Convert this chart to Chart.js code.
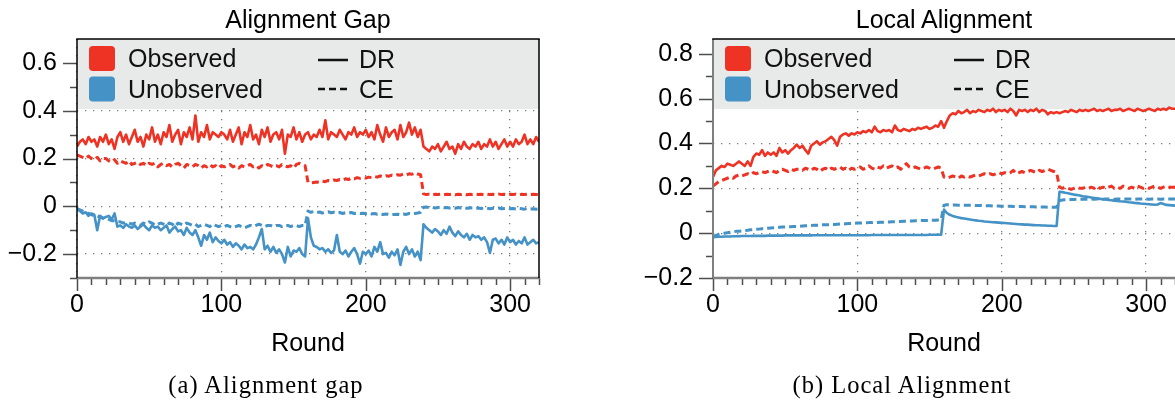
<!DOCTYPE html>
<html>
<head>
<meta charset="utf-8">
<script src="https://cdn.jsdelivr.net/npm/chart.js@4.4.1/dist/chart.umd.min.js"></script>
<style>
  html, body { margin: 0; padding: 0; background: #fff; }
  body { width: 1175px; height: 402px; overflow: hidden; position: relative; }
  canvas { position: absolute; top: 0; }
  .txt { position: absolute; white-space: nowrap; text-align: center; width: 500px; line-height: 1; color: #000; }
  .ttl { font-family: "Liberation Sans", Arial, sans-serif; font-size: 25px; }
  .cap { font-family: "Liberation Serif", "Times New Roman", serif; font-size: 24.5px; letter-spacing: 1px; }
</style>
</head>
<body>
<canvas id="c1" width="560" height="402" style="left:0px;width:560px;height:402px"></canvas>
<canvas id="c2" width="545" height="402" style="left:636px;width:545px;height:402px"></canvas>
<div class="txt ttl" style="left:58px;top:7px">Alignment Gap</div>
<div class="txt ttl" style="left:694px;top:7px">Local Alignment</div>
<div class="txt cap" style="left:16px;top:373px">(a) Alignment gap</div>
<div class="txt cap" style="left:652px;top:373px">(b) Local Alignment</div>
<script>
// ---------------- data ----------------
const rounds = [0,2,4,6,8,10,12,14,16,18,20,22,24,26,28,30,32,34,36,38,40,42,44,46,48,50,52,54,56,58,60,62,64,66,68,70,72,74,76,78,80,82,84,86,88,90,92,94,96,98,100,102,104,106,108,110,112,114,116,118,120,122,124,126,128,130,132,134,136,138,140,142,144,146,148,150,152,154,156,158,160,162,164,166,168,170,172,174,176,178,180,182,184,186,188,190,192,194,196,198,200,202,204,206,208,210,212,214,216,218,220,222,224,226,228,230,232,234,236,238,240,242,244,246,248,250,252,254,256,258,260,262,264,266,268,270,272,274,276,278,280,282,284,286,288,290,292,294,296,298,300,302,304,306,308,310,312,314,316,318,320];

// (a) Alignment Gap
const gapObservedDR = [
0.25,0.27,0.28,0.26,0.29,0.27,0.28,0.25,0.29,0.27,
0.30,0.26,0.28,0.24,0.29,0.31,0.27,0.30,0.26,0.29,
0.32,0.27,0.29,0.25,0.30,0.28,0.33,0.27,0.30,0.26,
0.31,0.29,0.34,0.27,0.30,0.32,0.26,0.31,0.29,0.33,
0.28,0.38,0.27,0.31,0.29,0.34,0.28,0.31,0.30,0.29,
0.31,0.30,0.28,0.32,0.27,0.30,0.33,0.26,0.31,0.29,
0.34,0.28,0.30,0.26,0.32,0.29,0.33,0.27,0.30,0.31,
0.28,0.32,0.22,0.30,0.29,0.33,0.28,0.31,0.27,0.30,
0.31,0.28,0.30,0.29,0.32,0.29,0.36,0.28,0.31,0.30,
0.29,0.32,0.30,0.28,0.31,0.30,0.33,0.29,0.31,0.30,
0.32,0.29,0.31,0.28,0.34,0.30,0.27,0.33,0.29,0.31,
0.32,0.28,0.34,0.29,0.31,0.35,0.30,0.33,0.29,0.32,
0.25,0.24,0.23,0.25,0.24,0.26,0.23,0.25,0.27,0.24,
0.25,0.22,0.26,0.24,0.27,0.25,0.24,0.26,0.25,0.27,
0.24,0.26,0.25,0.28,0.25,0.27,0.24,0.26,0.28,0.25,
0.27,0.25,0.28,0.26,0.27,0.30,0.26,0.28,0.26,0.29,
0.27];
const gapObservedCE = [
0.215,0.21,0.205,0.20,0.21,0.20,0.195,0.205,0.19,0.20,
0.20,0.19,0.185,0.195,0.18,0.19,0.185,0.18,0.19,0.175,
0.18,0.185,0.175,0.18,0.17,0.18,0.175,0.18,0.165,0.175,
0.18,0.17,0.175,0.165,0.175,0.18,0.17,0.16,0.175,0.17,
0.165,0.175,0.17,0.16,0.17,0.165,0.175,0.165,0.17,0.16,
0.17,0.165,0.17,0.175,0.165,0.17,0.16,0.17,0.165,0.17,
0.175,0.165,0.17,0.16,0.17,0.165,0.175,0.17,0.165,0.17,
0.165,0.175,0.17,0.165,0.17,0.16,0.175,0.18,0.175,0.17,
0.10,0.098,0.10,0.102,0.10,0.105,0.103,0.108,0.106,0.11,
0.108,0.112,0.11,0.115,0.112,0.118,0.115,0.12,0.117,0.12,
0.118,0.122,0.12,0.125,0.122,0.127,0.124,0.128,0.126,0.13,
0.128,0.132,0.13,0.135,0.131,0.136,0.134,0.14,0.135,0.132,
0.052,0.049,0.051,0.048,0.05,0.049,0.051,0.048,0.05,0.049,
0.051,0.048,0.05,0.049,0.051,0.048,0.05,0.049,0.051,0.049,
0.05,0.048,0.051,0.049,0.05,0.048,0.051,0.049,0.05,0.048,
0.05,0.049,0.051,0.048,0.05,0.049,0.051,0.049,0.05,0.049,
0.049];
const gapUnobservedDR = [
-0.01,-0.02,-0.03,-0.025,-0.04,-0.03,-0.035,-0.10,-0.04,-0.05,
-0.045,-0.04,-0.055,-0.03,-0.085,-0.08,-0.09,-0.075,-0.085,-0.09,
-0.08,-0.095,-0.085,-0.075,-0.09,-0.10,-0.08,-0.09,-0.085,-0.10,
-0.09,-0.08,-0.11,-0.095,-0.085,-0.105,-0.10,-0.12,-0.09,-0.11,
-0.12,-0.10,-0.13,-0.165,-0.12,-0.14,-0.11,-0.15,-0.13,-0.145,
-0.155,-0.14,-0.16,-0.15,-0.17,-0.155,-0.165,-0.18,-0.16,-0.175,
-0.17,-0.18,-0.16,-0.13,-0.095,-0.18,-0.165,-0.19,-0.17,-0.195,
-0.18,-0.20,-0.235,-0.17,-0.21,-0.185,-0.19,-0.175,-0.20,-0.21,
-0.05,-0.13,-0.165,-0.17,-0.18,-0.175,-0.19,-0.18,-0.195,-0.185,
-0.12,-0.19,-0.20,-0.185,-0.21,-0.19,-0.175,-0.20,-0.24,-0.19,
-0.20,-0.185,-0.21,-0.17,-0.19,-0.15,-0.20,-0.195,-0.215,-0.19,
-0.205,-0.18,-0.245,-0.19,-0.17,-0.20,-0.18,-0.21,-0.19,-0.225,
-0.075,-0.09,-0.10,-0.11,-0.095,-0.105,-0.12,-0.10,-0.115,-0.085,
-0.11,-0.125,-0.105,-0.12,-0.13,-0.115,-0.14,-0.12,-0.13,-0.125,
-0.14,-0.13,-0.15,-0.195,-0.14,-0.135,-0.155,-0.14,-0.16,-0.13,
-0.15,-0.14,-0.16,-0.145,-0.155,-0.13,-0.16,-0.15,-0.14,-0.155,
-0.15];
const gapUnobservedCE = [
-0.01,-0.015,-0.02,-0.025,-0.03,-0.035,-0.04,-0.04,-0.045,-0.05,
-0.05,-0.055,-0.06,-0.06,-0.065,-0.065,-0.07,-0.07,-0.07,-0.075,
-0.07,-0.075,-0.08,-0.07,-0.075,-0.065,-0.07,-0.08,-0.075,-0.07,
-0.075,-0.08,-0.07,-0.075,-0.085,-0.07,-0.075,-0.08,-0.07,-0.075,
-0.08,-0.075,-0.085,-0.08,-0.075,-0.08,-0.085,-0.075,-0.08,-0.085,
-0.08,-0.085,-0.08,-0.085,-0.09,-0.085,-0.08,-0.085,-0.09,-0.085,
-0.08,-0.085,-0.08,-0.075,-0.08,-0.085,-0.08,-0.08,-0.085,-0.08,
-0.08,-0.085,-0.08,-0.08,-0.085,-0.08,-0.08,-0.085,-0.08,-0.08,
-0.02,-0.025,-0.022,-0.026,-0.024,-0.028,-0.025,-0.023,-0.027,-0.025,
-0.028,-0.026,-0.03,-0.027,-0.029,-0.026,-0.03,-0.028,-0.03,-0.029,
-0.03,-0.028,-0.032,-0.03,-0.033,-0.031,-0.034,-0.032,-0.034,-0.035,
-0.034,-0.033,-0.035,-0.032,-0.034,-0.03,-0.032,-0.03,-0.028,-0.025,
-0.004,-0.003,-0.006,-0.004,-0.007,-0.005,-0.004,-0.006,-0.005,-0.007,
-0.006,-0.008,-0.005,-0.007,-0.006,-0.008,-0.007,-0.006,-0.008,-0.007,
-0.009,-0.007,-0.008,-0.01,-0.008,-0.009,-0.007,-0.01,-0.009,-0.008,
-0.01,-0.009,-0.011,-0.008,-0.01,-0.012,-0.009,-0.011,-0.01,-0.012,
-0.011];

// (b) Local Alignment
const localObservedDR = [
0.25,0.28,0.29,0.30,0.295,0.31,0.305,0.30,0.31,0.32,
0.31,0.30,0.32,0.30,0.34,0.355,0.35,0.37,0.345,0.36,
0.35,0.36,0.345,0.38,0.36,0.37,0.355,0.37,0.38,0.395,
0.38,0.39,0.37,0.355,0.39,0.40,0.41,0.395,0.405,0.41,
0.42,0.43,0.415,0.39,0.43,0.44,0.445,0.435,0.445,0.44,
0.45,0.445,0.455,0.45,0.46,0.45,0.475,0.455,0.45,0.46,
0.455,0.46,0.45,0.48,0.46,0.455,0.465,0.46,0.455,0.465,
0.46,0.47,0.465,0.47,0.475,0.465,0.47,0.48,0.475,0.50,
0.47,0.50,0.525,0.535,0.53,0.545,0.535,0.54,0.55,0.535,
0.545,0.54,0.55,0.545,0.54,0.55,0.545,0.555,0.54,0.55,
0.545,0.55,0.54,0.555,0.545,0.525,0.55,0.545,0.55,0.54,
0.55,0.545,0.555,0.54,0.55,0.545,0.53,0.54,0.535,0.54,
0.535,0.54,0.545,0.54,0.55,0.545,0.54,0.55,0.545,0.55,
0.545,0.55,0.555,0.545,0.55,0.545,0.55,0.555,0.545,0.55,
0.55,0.555,0.545,0.55,0.555,0.55,0.545,0.555,0.55,0.545,
0.55,0.555,0.55,0.545,0.555,0.55,0.555,0.55,0.56,0.555,
0.555];
const localObservedCE = [
0.21,0.22,0.23,0.235,0.24,0.245,0.25,0.245,0.255,0.26,
0.255,0.26,0.265,0.26,0.27,0.265,0.27,0.275,0.27,0.275,
0.28,0.275,0.27,0.28,0.285,0.28,0.275,0.285,0.28,0.285,
0.285,0.28,0.29,0.285,0.28,0.29,0.285,0.275,0.285,0.29,
0.28,0.29,0.285,0.29,0.295,0.285,0.29,0.28,0.29,0.285,
0.29,0.295,0.285,0.29,0.30,0.29,0.285,0.295,0.29,0.30,
0.29,0.295,0.30,0.29,0.295,0.285,0.30,0.31,0.295,0.29,
0.295,0.29,0.285,0.29,0.295,0.29,0.285,0.29,0.295,0.29,
0.25,0.245,0.25,0.255,0.25,0.245,0.255,0.25,0.255,0.25,
0.255,0.26,0.255,0.26,0.265,0.26,0.265,0.26,0.265,0.27,
0.265,0.27,0.265,0.27,0.28,0.265,0.27,0.275,0.27,0.275,
0.28,0.275,0.27,0.28,0.275,0.28,0.285,0.28,0.275,0.27,
0.205,0.20,0.205,0.20,0.195,0.20,0.205,0.20,0.20,0.205,
0.20,0.205,0.20,0.21,0.20,0.205,0.20,0.205,0.21,0.20,
0.205,0.20,0.21,0.205,0.20,0.205,0.20,0.21,0.205,0.20,
0.205,0.20,0.205,0.21,0.205,0.20,0.205,0.21,0.205,0.205,
0.205];
const localUnobservedDR = [
-0.018,-0.017,-0.016,-0.016,-0.015,-0.015,-0.015,-0.014,-0.014,-0.014,
-0.013,-0.013,-0.013,-0.013,-0.012,-0.012,-0.012,-0.012,-0.012,-0.011,
-0.011,-0.011,-0.011,-0.011,-0.011,-0.010,-0.010,-0.010,-0.010,-0.010,
-0.010,-0.010,-0.010,-0.010,-0.010,-0.009,-0.009,-0.009,-0.009,-0.009,
-0.009,-0.009,-0.009,-0.009,-0.009,-0.009,-0.009,-0.009,-0.009,-0.009,
-0.009,-0.009,-0.009,-0.009,-0.009,-0.008,-0.008,-0.008,-0.008,-0.008,
-0.008,-0.008,-0.008,-0.008,-0.008,-0.008,-0.008,-0.008,-0.008,-0.008,
-0.008,-0.008,-0.008,-0.008,-0.008,-0.007,-0.007,-0.007,-0.007,-0.007,
0.105,0.09,0.082,0.077,0.073,0.07,0.067,0.065,0.063,0.061,
0.059,0.057,0.055,0.054,0.052,0.051,0.05,0.049,0.048,0.047,
0.046,0.045,0.044,0.043,0.042,0.041,0.04,0.039,0.038,0.038,
0.037,0.036,0.035,0.035,0.034,0.034,0.033,0.033,0.032,0.032,
0.185,0.183,0.18,0.178,0.175,0.172,0.17,0.168,0.165,0.163,
0.161,0.159,0.157,0.155,0.153,0.151,0.15,0.148,0.147,0.145,
0.144,0.142,0.141,0.14,0.138,0.137,0.135,0.134,0.132,0.131,
0.13,0.129,0.128,0.127,0.128,0.134,0.13,0.126,0.125,0.124,
0.123];
const localUnobservedCE = [
-0.015,-0.01,-0.005,-0.002,0.0,0.002,0.004,0.006,0.008,0.009,
0.01,0.012,0.013,0.015,0.016,0.017,0.018,0.02,0.021,0.022,
0.023,0.024,0.025,0.026,0.027,0.027,0.028,0.029,0.03,0.03,
0.031,0.032,0.033,0.033,0.034,0.035,0.035,0.036,0.037,0.037,
0.038,0.039,0.039,0.04,0.041,0.041,0.042,0.043,0.043,0.044,
0.045,0.045,0.046,0.046,0.047,0.047,0.048,0.048,0.049,0.049,
0.05,0.05,0.051,0.051,0.052,0.052,0.053,0.053,0.054,0.054,
0.055,0.055,0.056,0.056,0.057,0.057,0.058,0.058,0.059,0.06,
0.125,0.127,0.127,0.126,0.126,0.125,0.125,0.125,0.124,0.124,
0.124,0.123,0.123,0.123,0.122,0.122,0.122,0.121,0.121,0.121,
0.12,0.12,0.12,0.12,0.119,0.119,0.119,0.119,0.118,0.118,
0.118,0.118,0.117,0.117,0.117,0.117,0.116,0.116,0.116,0.116,
0.145,0.148,0.149,0.15,0.15,0.15,0.151,0.151,0.151,0.151,
0.151,0.152,0.151,0.152,0.152,0.151,0.152,0.152,0.152,0.151,
0.152,0.152,0.151,0.152,0.152,0.152,0.151,0.152,0.152,0.152,
0.152,0.151,0.152,0.152,0.152,0.151,0.152,0.152,0.152,0.152,
0.152];

// ticks / labels
const xMajorTicks = [0, 100, 200, 300];
const xMinorTicks = [10,20,30,40,50,60,70,80,90,110,120,130,140,150,160,170,180,190,210,220,230,240,250,260,270,280,290,310,320];
const gapYTicks = [-0.2, 0, 0.2, 0.4, 0.6];
const gapYLabels = ['\u22120.2', '0', '0.2', '0.4', '0.6'];
const gapYMinor = [-0.3, -0.1, 0.1, 0.3, 0.5];
const localYTicks = [-0.2, 0, 0.2, 0.4, 0.6, 0.8];
const localYLabels = ['\u22120.2', '0', '0.2', '0.4', '0.6', '0.8'];
const localYMinor = [-0.1, 0.1, 0.3, 0.5, 0.7];
const groupNames = ['Observed', 'Unobserved'];
const methodNames = ['DR', 'CE'];

// ---------------- styling ----------------
const RED = '#ee3324';
const BLUE = '#4492c6';
const FONT = '"Liberation Sans", Arial, Helvetica, sans-serif';

function roundRect(ctx, x, y, w, h, r) {
  ctx.beginPath();
  ctx.moveTo(x + r, y);
  ctx.lineTo(x + w - r, y); ctx.quadraticCurveTo(x + w, y, x + w, y + r);
  ctx.lineTo(x + w, y + h - r); ctx.quadraticCurveTo(x + w, y + h, x + w - r, y + h);
  ctx.lineTo(x + r, y + h); ctx.quadraticCurveTo(x, y + h, x, y + h - r);
  ctx.lineTo(x, y + r); ctx.quadraticCurveTo(x, y, x + r, y);
  ctx.closePath();
}
function seg(ctx, x1, y1, x2, y2) { ctx.beginPath(); ctx.moveTo(x1, y1); ctx.lineTo(x2, y2); ctx.stroke(); }

const decor = {
  id: 'decor',
  beforeDatasetsDraw(chart, args, o) {
    const {ctx, chartArea: a} = chart;
    ctx.save();
    ctx.fillStyle = '#e8e9e9';
    ctx.fillRect(a.left, a.top, a.right - a.left, o.boxHeight);
    ctx.restore();
  },
  afterDraw(chart, args, o) {
    const {ctx, chartArea: a, scales} = chart;
    const x = scales.x, y = scales.y;
    ctx.save();
    ctx.lineCap = 'butt';
    // tick marks
    ctx.strokeStyle = '#4d4d4d';
    ctx.lineWidth = 1.5;
    o.yMinor.forEach(v => { const p = Math.round(y.getPixelForValue(v)) + 0.5; seg(ctx, a.left - 7, p, a.left, p); });
    o.yMajor.forEach(v => { const p = Math.round(y.getPixelForValue(v)) + 0.5; seg(ctx, a.left - 14, p, a.left, p); });
    o.xMinor.forEach(v => { const p = Math.round(x.getPixelForValue(v)) + 0.5; seg(ctx, p, a.bottom, p, a.bottom + 7); });
    o.xMajor.forEach(v => { const p = Math.round(x.getPixelForValue(v)) + 0.5; seg(ctx, p, a.bottom, p, a.bottom + 13); });
    // axes and frame
    ctx.strokeStyle = '#7f7f7f'; ctx.lineWidth = 2.5;
    seg(ctx, a.left, a.bottom, a.right + 1, a.bottom);
    ctx.strokeStyle = o.leftAxisColor; ctx.lineWidth = o.leftAxisWidth;
    seg(ctx, a.left, a.top, a.left, a.bottom);
    ctx.strokeStyle = '#000'; ctx.lineWidth = 1.5;
    seg(ctx, a.left - 0.75, a.top, a.right + 0.75, a.top);
    if (o.rightBorder) seg(ctx, a.right, a.top, a.right, a.bottom);
    // legend
    const L = a.left, T = a.top;
    ctx.fillStyle = RED; roundRect(ctx, L + 12, T + 7, 26, 25, 4); ctx.fill();
    ctx.fillStyle = BLUE; roundRect(ctx, L + 12, T + 37.5, 26, 25, 4); ctx.fill();
    ctx.fillStyle = '#111';
    ctx.font = '25px ' + FONT;
    ctx.textBaseline = 'alphabetic';
    ctx.textAlign = 'left';
    ctx.fillText(groupNames[0], L + 51, T + 27.5);
    ctx.fillText(groupNames[1], L + 51, T + 59);
    ctx.fillText(methodNames[0], L + 282, T + 28.5);
    ctx.fillText(methodNames[1], L + 282, T + 59);
    ctx.strokeStyle = '#111'; ctx.lineWidth = 2.5;
    seg(ctx, L + 241, T + 21, L + 271, T + 21);
    ctx.setLineDash([7, 4]);
    seg(ctx, L + 241, T + 50, L + 271, T + 50);
    ctx.setLineDash([]);
    ctx.restore();
  }
};

function series(vals, color, dashed) {
  return {
    data: rounds.map((r, i) => ({x: r, y: vals[i]})),
    borderColor: color,
    backgroundColor: color,
    borderWidth: dashed ? 3 : 2.6,
    borderDash: dashed ? [7, 4] : [],
    borderJoinStyle: 'round',
    pointRadius: 0,
    tension: 0,
    fill: false
  };
}

function makeChart(id, cfg) {
  const gridStyle = {color: '#7a7a7a', lineWidth: 1.3, drawTicks: false};
  const borderStyle = {display: false, dash: [1.3, 6.7]};
  return new Chart(document.getElementById(id), {
    type: 'line',
    data: {
      datasets: [
        series(cfg.obsCE, RED, true),
        series(cfg.unobsCE, BLUE, true),
        series(cfg.obsDR, RED, false),
        series(cfg.unobsDR, BLUE, false)
      ]
    },
    options: {
      responsive: false,
      animation: false,
      devicePixelRatio: 1,
      layout: {padding: {top: 39, right: cfg.padRight, bottom: 0, left: 0}},
      plugins: {
        legend: {display: false},
        tooltip: {enabled: false},
        decor: {
          boxHeight: 70,
          yMajor: cfg.yTicks, yMinor: cfg.yMinor,
          xMajor: xMajorTicks, xMinor: xMinorTicks,
          leftAxisColor: cfg.leftAxisColor, leftAxisWidth: cfg.leftAxisWidth,
          rightBorder: cfg.rightBorder
        }
      },
      scales: {
        x: {
          type: 'linear', min: 0, max: 320,
          afterBuildTicks: s => { s.ticks = xMajorTicks.map(v => ({value: v})); },
          afterFit: s => { s.height = 124; },
          grid: gridStyle,
          border: borderStyle,
          ticks: {padding: 12, color: '#000', font: {family: FONT, size: 25}, maxRotation: 0, autoSkip: false,
                  callback: v => String(v)},
          title: {display: true, text: 'Round', color: '#000', font: {family: FONT, size: 25}, padding: {top: 0, bottom: 43}}
        },
        y: {
          type: 'linear', min: cfg.yMin, max: cfg.yMax,
          afterBuildTicks: s => { s.ticks = cfg.yTicks.map(v => ({value: v})); },
          afterFit: s => { s.width = 77; },
          grid: gridStyle,
          border: borderStyle,
          ticks: {padding: 20, color: '#000', font: {family: FONT, size: 25}, autoSkip: false,
                  callback: v => { const i = cfg.yTicks.findIndex(t => Math.abs(t - v) < 1e-9); return i >= 0 ? cfg.yLabels[i] : ''; }}
        }
      }
    },
    plugins: [decor]
  });
}

makeChart('c1', {
  obsDR: gapObservedDR, obsCE: gapObservedCE, unobsDR: gapUnobservedDR, unobsCE: gapUnobservedCE,
  yMin: -0.3, yMax: 0.7, yTicks: gapYTicks, yLabels: gapYLabels, yMinor: gapYMinor,
  padRight: 21, leftAxisColor: '#000', leftAxisWidth: 1.5, rightBorder: true
});
makeChart('c2', {
  obsDR: localObservedDR, obsCE: localObservedCE, unobsDR: localUnobservedDR, unobsCE: localUnobservedCE,
  yMin: -0.2, yMax: 0.866, yTicks: localYTicks, yLabels: localYLabels, yMinor: localYMinor,
  padRight: 6, leftAxisColor: '#7f7f7f', leftAxisWidth: 2, rightBorder: false
});
</script>
</body>
</html>
